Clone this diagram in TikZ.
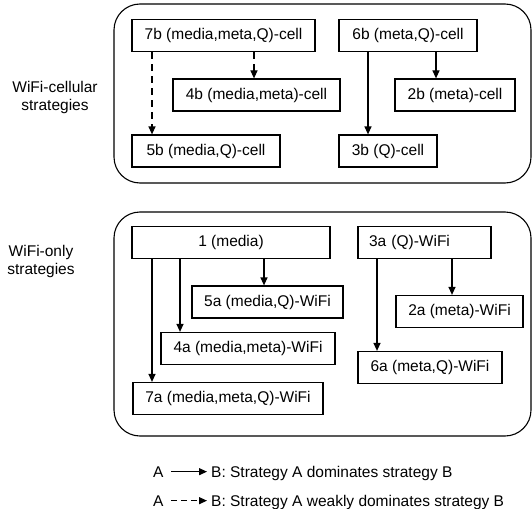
\documentclass[tikz,border=0pt]{standalone}
\usepackage{fontspec}
\setmainfont{Liberation Sans}
\usetikzlibrary{arrows.meta}
\begin{document}
\begin{tikzpicture}[x=1pt,y=-1pt,
  every node/.style={font=\fontsize{15.5}{18}\selectfont},
  box/.style={draw, line width=1.2pt, inner sep=0pt, minimum height=32pt},
  group/.style={draw, line width=1.1pt, rounded corners=26pt, inner sep=0pt},
  arr/.style={line width=1.2pt, -{Triangle[length=8pt,width=7pt]}},
  darr/.style={arr, dash pattern=on 7pt off 5pt},
]
\useasboundingbox (0,0) rectangle (532,508);

% groups
\node[group, minimum width=417pt, minimum height=179pt] (cellgroup) at (322.5,93.5) {};
\node[group, minimum width=417pt, minimum height=224pt] (wifigroup) at (322.5,324) {};

\node[align=center] (celllabel) at (55,97.5) {WiFi-cellular\\strategies};
\node[align=center] (wifilabel) at (41,261) {WiFi-only\\strategies};

% cellular boxes
\node[box, minimum width=183pt] (b7) at (223.5,35.5) {7b (media,meta,Q)-cell};
\node[box, minimum width=167pt] (b4) at (256.5,95) {4b (media,meta)-cell};
\node[box, minimum width=148pt] (b5) at (206,151) {5b (media,Q)-cell};
\node[box, minimum width=138pt] (b6) at (408,35.5) {6b (meta,Q)-cell};
\node[box, minimum width=120pt] (b2) at (455,95) {2b (meta)-cell};
\node[box, minimum width=98pt] (b3) at (388,151) {3b (Q)-cell};

% wifi boxes
\node[box, minimum width=198pt] (a1) at (231,242.5) {1 (media)};
\node[box, minimum width=133pt, inner xsep=11pt, text width=111pt, align=left] (a3) at (424.5,242.5) {3a (Q)-WiFi};
\node[box, minimum width=151pt] (a5) at (267.5,302) {5a (media,Q)-WiFi};
\node[box, minimum width=174pt] (a4) at (248,348.5) {4a (media,meta)-WiFi};
\node[box, minimum width=190pt] (a7) at (228,398.5) {7a (media,meta,Q)-WiFi};
\node[box, minimum width=127pt] (a2) at (459.5,311.5) {2a (meta)-WiFi};
\node[box, minimum width=144pt] (a6) at (430,367.5) {6a (meta,Q)-WiFi};

% cellular arrows
\draw[darr] (b7.south -| 152,0) -- (b5.north -| 152,0);
\draw[darr] (b7.south -| 254,0) -- (b4.north -| 254,0);
\draw[arr] (b6.south -| 368,0) -- (b3.north -| 368,0);
\draw[arr] (b6.south -| 436,0) -- (b2.north -| 436,0);

% wifi arrows
\draw[arr] (a1.south -| 152,0) -- (a7.north -| 152,0);
\draw[arr] (a1.south -| 180,0) -- (a4.north -| 180,0);
\draw[arr] (a1.south -| 264,0) -- (a5.north -| 264,0);
\draw[arr] (a3.south -| 377,0) -- (a6.north -| 377,0);
\draw[arr] (a3.south -| 452,0) -- (a2.north -| 452,0);

% legend
\node[anchor=base west, inner sep=0pt] (la1) at (153,477) {A};
\node[anchor=base west, inner sep=0pt] (lb1) at (211,477) {B: Strategy A dominates strategy B};
\node[anchor=base west, inner sep=0pt] (la2) at (153,506) {A};
\node[anchor=base west, inner sep=0pt] (lb2) at (211,506) {B: Strategy A weakly dominates strategy B};
\draw[arr, shorten <=7.5pt, shorten >=4pt] (la1.east) -- (la1.east -| lb1.west);
\draw[darr, dash pattern=on 6pt off 4pt, shorten <=7.5pt, shorten >=4pt] (la2.east) -- (la2.east -| lb2.west);
\end{tikzpicture}
\end{document}
